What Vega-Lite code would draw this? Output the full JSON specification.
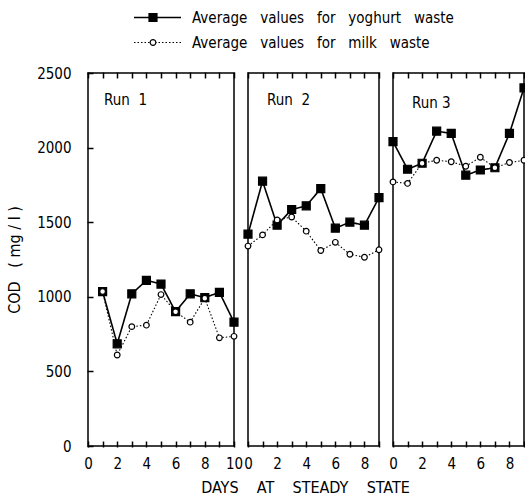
{
  "$schema": "https://vega.github.io/schema/vega-lite/v6.json",
  "background": "white",
  "padding": {"left": 5, "top": 5, "right": 0, "bottom": 0},
  "bounds": "flush",
  "spacing": 18,
  "config": {
    "font": "'DejaVu Sans Condensed', 'Liberation Sans', sans-serif",
    "view": {"stroke": "black", "strokeWidth": 1.5},
    "axis": {
      "domain": false, "grid": false,
      "labelColor": "black", "labelFont": "'DejaVu Sans Condensed', 'Liberation Sans', sans-serif", "labelFontSize": 15,
      "titleColor": "black", "titleFont": "'DejaVu Sans Condensed', 'Liberation Sans', sans-serif", "titleFontSize": 16, "titleFontWeight": "normal"
    },
    "title": {"font": "'DejaVu Sans Condensed', 'Liberation Sans', sans-serif", "fontSize": 15, "fontWeight": "normal", "color": "black"}
  },
  "datasets": {
    "legend": [
      {"series": "yoghurt waste", "label": "Average\u00a0\u00a0\u00a0values\u00a0\u00a0\u00a0for\u00a0\u00a0\u00a0yoghurt\u00a0\u00a0\u00a0waste"},
      {"series": "milk waste", "label": "Average\u00a0\u00a0\u00a0values\u00a0\u00a0\u00a0for\u00a0\u00a0\u00a0milk\u00a0\u00a0\u00a0waste"}
    ],
    "cod": [
      {"run": "Run 1", "day": 1, "series": "yoghurt waste", "cod": 1035},
      {"run": "Run 1", "day": 2, "series": "yoghurt waste", "cod": 685},
      {"run": "Run 1", "day": 3, "series": "yoghurt waste", "cod": 1020},
      {"run": "Run 1", "day": 4, "series": "yoghurt waste", "cod": 1110},
      {"run": "Run 1", "day": 5, "series": "yoghurt waste", "cod": 1085},
      {"run": "Run 1", "day": 6, "series": "yoghurt waste", "cod": 900},
      {"run": "Run 1", "day": 7, "series": "yoghurt waste", "cod": 1020},
      {"run": "Run 1", "day": 8, "series": "yoghurt waste", "cod": 995},
      {"run": "Run 1", "day": 9, "series": "yoghurt waste", "cod": 1030},
      {"run": "Run 1", "day": 10, "series": "yoghurt waste", "cod": 830},
      {"run": "Run 2", "day": 0, "series": "yoghurt waste", "cod": 1420},
      {"run": "Run 2", "day": 1, "series": "yoghurt waste", "cod": 1775},
      {"run": "Run 2", "day": 2, "series": "yoghurt waste", "cod": 1480},
      {"run": "Run 2", "day": 3, "series": "yoghurt waste", "cod": 1585},
      {"run": "Run 2", "day": 4, "series": "yoghurt waste", "cod": 1610},
      {"run": "Run 2", "day": 5, "series": "yoghurt waste", "cod": 1725},
      {"run": "Run 2", "day": 6, "series": "yoghurt waste", "cod": 1460},
      {"run": "Run 2", "day": 7, "series": "yoghurt waste", "cod": 1500},
      {"run": "Run 2", "day": 8, "series": "yoghurt waste", "cod": 1480},
      {"run": "Run 2", "day": 9, "series": "yoghurt waste", "cod": 1665},
      {"run": "Run 3", "day": 0, "series": "yoghurt waste", "cod": 2040},
      {"run": "Run 3", "day": 1, "series": "yoghurt waste", "cod": 1855},
      {"run": "Run 3", "day": 2, "series": "yoghurt waste", "cod": 1895},
      {"run": "Run 3", "day": 3, "series": "yoghurt waste", "cod": 2110},
      {"run": "Run 3", "day": 4, "series": "yoghurt waste", "cod": 2095},
      {"run": "Run 3", "day": 5, "series": "yoghurt waste", "cod": 1815},
      {"run": "Run 3", "day": 6, "series": "yoghurt waste", "cod": 1850},
      {"run": "Run 3", "day": 7, "series": "yoghurt waste", "cod": 1865},
      {"run": "Run 3", "day": 8, "series": "yoghurt waste", "cod": 2095},
      {"run": "Run 3", "day": 9, "series": "yoghurt waste", "cod": 2400},
      {"run": "Run 1", "day": 1, "series": "milk waste", "cod": 1035},
      {"run": "Run 1", "day": 2, "series": "milk waste", "cod": 610},
      {"run": "Run 1", "day": 3, "series": "milk waste", "cod": 800},
      {"run": "Run 1", "day": 4, "series": "milk waste", "cod": 810},
      {"run": "Run 1", "day": 5, "series": "milk waste", "cod": 1015},
      {"run": "Run 1", "day": 6, "series": "milk waste", "cod": 900},
      {"run": "Run 1", "day": 7, "series": "milk waste", "cod": 830},
      {"run": "Run 1", "day": 8, "series": "milk waste", "cod": 990},
      {"run": "Run 1", "day": 9, "series": "milk waste", "cod": 725},
      {"run": "Run 1", "day": 10, "series": "milk waste", "cod": 735},
      {"run": "Run 2", "day": 0, "series": "milk waste", "cod": 1340},
      {"run": "Run 2", "day": 1, "series": "milk waste", "cod": 1415},
      {"run": "Run 2", "day": 2, "series": "milk waste", "cod": 1515},
      {"run": "Run 2", "day": 3, "series": "milk waste", "cod": 1535},
      {"run": "Run 2", "day": 4, "series": "milk waste", "cod": 1440},
      {"run": "Run 2", "day": 5, "series": "milk waste", "cod": 1310},
      {"run": "Run 2", "day": 6, "series": "milk waste", "cod": 1365},
      {"run": "Run 2", "day": 7, "series": "milk waste", "cod": 1285},
      {"run": "Run 2", "day": 8, "series": "milk waste", "cod": 1265},
      {"run": "Run 2", "day": 9, "series": "milk waste", "cod": 1315},
      {"run": "Run 3", "day": 0, "series": "milk waste", "cod": 1770},
      {"run": "Run 3", "day": 1, "series": "milk waste", "cod": 1760},
      {"run": "Run 3", "day": 2, "series": "milk waste", "cod": 1895},
      {"run": "Run 3", "day": 3, "series": "milk waste", "cod": 1915},
      {"run": "Run 3", "day": 4, "series": "milk waste", "cod": 1905},
      {"run": "Run 3", "day": 5, "series": "milk waste", "cod": 1875},
      {"run": "Run 3", "day": 6, "series": "milk waste", "cod": 1935},
      {"run": "Run 3", "day": 7, "series": "milk waste", "cod": 1865},
      {"run": "Run 3", "day": 8, "series": "milk waste", "cod": 1900},
      {"run": "Run 3", "day": 9, "series": "milk waste", "cod": 1915}
    ]
  },
  "vconcat": [
    {
      "width": 436, "height": 50,
      "view": {"stroke": null},
      "data": {"name": "legend"},
      "encoding": {
        "y": {"field": "series", "type": "nominal", "scale": {"domain": ["yoghurt waste", "milk waste"]}, "axis": null}
      },
      "layer": [
        {
          "mark": {"type": "rule", "color": "black"},
          "encoding": {
            "x": {"datum": 46, "type": "quantitative", "scale": {"domain": [0, 436], "nice": false, "zero": false}, "axis": null},
            "x2": {"datum": 93},
            "strokeDash": {"field": "series", "type": "nominal", "scale": {"domain": ["yoghurt waste", "milk waste"], "range": [[1, 0], [1.5, 2]]}, "legend": null},
            "strokeWidth": {"field": "series", "type": "nominal", "scale": {"domain": ["yoghurt waste", "milk waste"], "range": [1.6, 1.1]}, "legend": null}
          }
        },
        {
          "mark": {"type": "point", "opacity": 1, "stroke": "black", "strokeWidth": 1.2},
          "encoding": {
            "x": {"datum": 65, "type": "quantitative"},
            "shape": {"field": "series", "type": "nominal", "scale": {"domain": ["yoghurt waste", "milk waste"], "range": ["square", "circle"]}, "legend": null},
            "fill": {"field": "series", "type": "nominal", "scale": {"domain": ["yoghurt waste", "milk waste"], "range": ["black", "white"]}, "legend": null},
            "size": {"field": "series", "type": "nominal", "scale": {"domain": ["yoghurt waste", "milk waste"], "range": [64, 32]}, "legend": null}
          }
        },
        {
          "mark": {"type": "text", "align": "left", "baseline": "middle", "fontSize": 15, "color": "black", "font": "'DejaVu Sans Condensed', 'Liberation Sans', sans-serif"},
          "encoding": {
            "x": {"datum": 104, "type": "quantitative"},
            "text": {"field": "label", "type": "nominal"}
          }
        }
      ]
    },
    {
      "bounds": "flush",
      "spacing": 14,
      "hconcat": [
        {
          "width": 146, "height": 373,
          "data": {"name": "cod"},
          "transform": [{"filter": "datum.run === 'Run 1'"}],
          "title": {"text": "Run\u00a0\u00a01", "anchor": "start", "frame": "group", "offset": -42, "dx": 16},
          "layer": [
            {
              "mark": {"type": "line", "color": "black"},
              "encoding": {
                "x": {"field": "day", "type": "quantitative", "scale": {"domain": [0, 10], "nice": false},
                      "axis": {"orient": "bottom", "values": [0,1,2,3,4,5,6,7,8,9,10], "labelExpr": "datum.value % 2 === 0 ? datum.label : ''", "title": null, "labelPadding": 9, "labelFlush": false, "labelOverlap": false, "ticks": true, "offset": -5, "tickSize": 6, "tickColor": "black", "tickWidth": 1.5, "zindex": 1}},
                "y": {"field": "cod", "type": "quantitative", "scale": {"domain": [0, 2500], "nice": false},
                      "axis": {"values": [0,500,1000,1500,2000,2500], "format": "d", "labelPadding": 16, "title": "COD\u00a0\u00a0\u00a0( mg / l )", "titlePadding": 14, "ticks": true, "offset": -5, "tickSize": 6, "tickColor": "black", "tickWidth": 1.5, "zindex": 1}},
                "strokeDash": {"field": "series", "type": "nominal", "scale": {"domain": ["yoghurt waste", "milk waste"], "range": [[1, 0], [1.5, 2]]}, "legend": null},
                "strokeWidth": {"field": "series", "type": "nominal", "scale": {"domain": ["yoghurt waste", "milk waste"], "range": [1.6, 1.1]}, "legend": null}
              }
            },
            {
              "mark": {"type": "point", "opacity": 1, "stroke": "black", "strokeWidth": 1.2},
              "encoding": {
                "x": {"field": "day", "type": "quantitative", "axis": {"orient": "top", "labels": false, "values": [0,1,2,3,4,5,6,7,8,9,10], "title": null, "ticks": true, "offset": -5, "tickSize": 6, "tickColor": "black", "tickWidth": 1.5, "zindex": 1}},
                "y": {"field": "cod", "type": "quantitative",
                      "axis": {"values": [0,500,1000,1500,2000,2500], "format": "d", "labelPadding": 16, "title": "COD\u00a0\u00a0\u00a0( mg / l )", "titlePadding": 14, "ticks": true, "offset": -5, "tickSize": 6, "tickColor": "black", "tickWidth": 1.5, "zindex": 1}},
                "shape": {"field": "series", "type": "nominal", "scale": {"domain": ["yoghurt waste", "milk waste"], "range": ["square", "circle"]}, "legend": null},
                "fill": {"field": "series", "type": "nominal", "scale": {"domain": ["yoghurt waste", "milk waste"], "range": ["black", "white"]}, "legend": null},
                "size": {"field": "series", "type": "nominal", "scale": {"domain": ["yoghurt waste", "milk waste"], "range": [64, 32]}, "legend": null}
              }
            }
          ],
          "resolve": {"axis": {"x": "independent"}}
        },
        {
          "width": 131, "height": 373,
          "data": {"name": "cod"},
          "transform": [{"filter": "datum.run === 'Run 2'"}],
          "title": {"text": "Run\u00a0\u00a02", "anchor": "start", "frame": "group", "offset": -37, "dx": 19},
          "layer": [
            {
              "mark": {"type": "line", "color": "black"},
              "encoding": {
                "x": {"field": "day", "type": "quantitative", "scale": {"domain": [0, 9], "nice": false},
                      "axis": {"orient": "bottom", "values": [0,1,2,3,4,5,6,7,8,9], "labelExpr": "datum.value % 2 === 0 ? datum.label : ''", "title": "DAYS\u00a0\u00a0\u00a0\u00a0AT\u00a0\u00a0\u00a0\u00a0STEADY\u00a0\u00a0\u00a0\u00a0STATE", "titleX": 57, "titleAlign": "center", "titlePadding": 8, "labelPadding": 9, "labelFlush": false, "labelOverlap": false, "ticks": true, "offset": -5, "tickSize": 6, "tickColor": "black", "tickWidth": 1.5, "zindex": 1}},
                "y": {"field": "cod", "type": "quantitative", "scale": {"domain": [0, 2500], "nice": false}, "axis": null},
                "strokeDash": {"field": "series", "type": "nominal", "scale": {"domain": ["yoghurt waste", "milk waste"], "range": [[1, 0], [1.5, 2]]}, "legend": null},
                "strokeWidth": {"field": "series", "type": "nominal", "scale": {"domain": ["yoghurt waste", "milk waste"], "range": [1.6, 1.1]}, "legend": null}
              }
            },
            {
              "mark": {"type": "point", "opacity": 1, "stroke": "black", "strokeWidth": 1.2},
              "encoding": {
                "x": {"field": "day", "type": "quantitative", "axis": {"orient": "top", "labels": false, "values": [0,1,2,3,4,5,6,7,8,9], "title": null, "ticks": true, "offset": -5, "tickSize": 6, "tickColor": "black", "tickWidth": 1.5, "zindex": 1}},
                "y": {"field": "cod", "type": "quantitative", "axis": null},
                "shape": {"field": "series", "type": "nominal", "scale": {"domain": ["yoghurt waste", "milk waste"], "range": ["square", "circle"]}, "legend": null},
                "fill": {"field": "series", "type": "nominal", "scale": {"domain": ["yoghurt waste", "milk waste"], "range": ["black", "white"]}, "legend": null},
                "size": {"field": "series", "type": "nominal", "scale": {"domain": ["yoghurt waste", "milk waste"], "range": [64, 32]}, "legend": null}
              }
            }
          ],
          "resolve": {"axis": {"x": "independent"}}
        },
        {
          "width": 131, "height": 373,
          "data": {"name": "cod"},
          "transform": [{"filter": "datum.run === 'Run 3'"}],
          "title": {"text": "Run\u00a03", "anchor": "start", "frame": "group", "offset": -40, "dx": 19},
          "layer": [
            {
              "mark": {"type": "line", "color": "black"},
              "encoding": {
                "x": {"field": "day", "type": "quantitative", "scale": {"domain": [0, 9], "nice": false},
                      "axis": {"orient": "bottom", "values": [0,1,2,3,4,5,6,7,8,9], "labelExpr": "datum.value % 2 === 0 ? datum.label : ''", "title": null, "labelPadding": 9, "labelFlush": false, "labelOverlap": false, "ticks": true, "offset": -5, "tickSize": 6, "tickColor": "black", "tickWidth": 1.5, "zindex": 1}},
                "y": {"field": "cod", "type": "quantitative", "scale": {"domain": [0, 2500], "nice": false}, "axis": null},
                "strokeDash": {"field": "series", "type": "nominal", "scale": {"domain": ["yoghurt waste", "milk waste"], "range": [[1, 0], [1.5, 2]]}, "legend": null},
                "strokeWidth": {"field": "series", "type": "nominal", "scale": {"domain": ["yoghurt waste", "milk waste"], "range": [1.6, 1.1]}, "legend": null}
              }
            },
            {
              "mark": {"type": "point", "opacity": 1, "stroke": "black", "strokeWidth": 1.2},
              "encoding": {
                "x": {"field": "day", "type": "quantitative", "axis": {"orient": "top", "labels": false, "values": [0,1,2,3,4,5,6,7,8,9], "title": null, "ticks": true, "offset": -5, "tickSize": 6, "tickColor": "black", "tickWidth": 1.5, "zindex": 1}},
                "y": {"field": "cod", "type": "quantitative", "axis": null},
                "shape": {"field": "series", "type": "nominal", "scale": {"domain": ["yoghurt waste", "milk waste"], "range": ["square", "circle"]}, "legend": null},
                "fill": {"field": "series", "type": "nominal", "scale": {"domain": ["yoghurt waste", "milk waste"], "range": ["black", "white"]}, "legend": null},
                "size": {"field": "series", "type": "nominal", "scale": {"domain": ["yoghurt waste", "milk waste"], "range": [64, 32]}, "legend": null}
              }
            }
          ],
          "resolve": {"axis": {"x": "independent"}}
        }
      ]
    }
  ]
}
